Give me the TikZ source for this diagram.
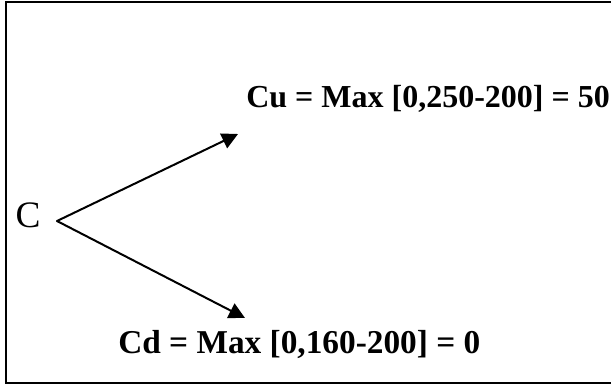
\documentclass[tikz,border=0pt]{standalone}
\usepackage{fontspec}
\setmainfont{Liberation Serif}
\usetikzlibrary{arrows.meta}

\begin{document}
\begin{tikzpicture}[x=0.75pt, y=-0.75pt, line cap=round,
  fleche/.style={line width=1.5pt, -{Triangle[length=12pt,width=12pt]}},
  gain/.style={anchor=base west, inner sep=0pt, font=\fontsize{#1}{28}\selectfont\bfseries},
  gain/.default=24]

\useasboundingbox (0,0) rectangle (611,387);

%% Le cadre.

\draw[line width=1.8pt, line cap=butt] (620,2) -- (6,2) -- (6,383) -- (620,383);

%% Le noeud et les deux branches.

\node[anchor=base, inner sep=0pt, font=\fontsize{28}{32}\selectfont] (c) at (28,227) {C};
\coordinate (tete) at (57,221);
\coordinate (haut) at (238,134);
\coordinate (bas) at (245,318);
\draw[fleche] (tete) -- (haut);
\draw[fleche] (tete) -- (bas);

%% Les valeurs.

\node[gain] (cu) at (246,107) {Cu = Max [0,250-200] = 50};
\node[gain=25] (cd) at (118,353) {Cd = Max [0,160-200] = 0};

\end{tikzpicture}
\end{document}
